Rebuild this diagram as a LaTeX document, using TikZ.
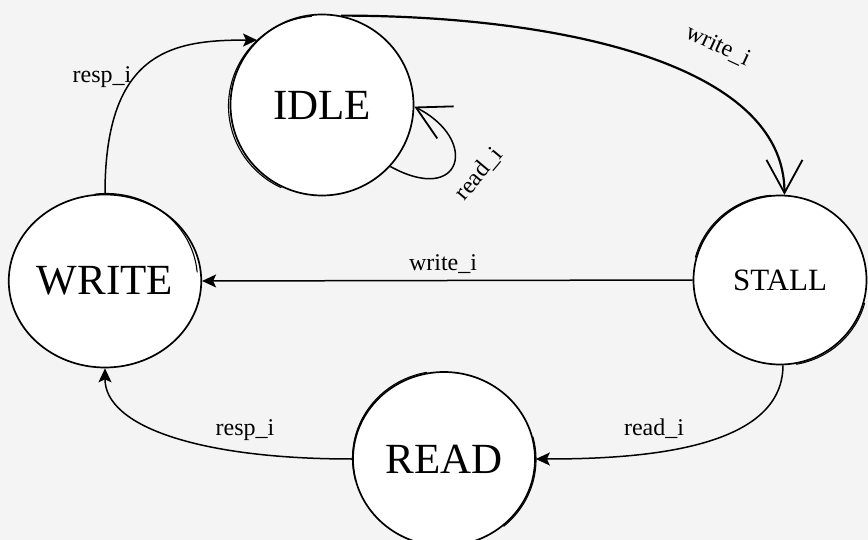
\documentclass[tikz,border=0pt]{standalone}
\usepackage{fontspec}
\setmainfont{Liberation Serif}
\usetikzlibrary{arrows.meta,shapes.geometric}
\definecolor{canvasbg}{RGB}{244,244,244}
\tikzset{
  state/.style={ellipse, draw=black, fill=white, line width=1.7pt, inner sep=0pt},
  statetext/.style={font=\fontsize{43}{43}\selectfont},
  stroke/.style={draw=black, line width=1.1pt, line cap=round},
  edge/.style={draw=black, line width=1.5pt},
  fa/.style={edge, -{Stealth[length=14pt,width=13pt,inset=3pt]}},
  oa/.style={edge, -{Straight Barb[length=33pt,width=36pt,line width=1.8pt]}},
  lbl/.style={font=\fontsize{24}{24}\selectfont, inner sep=0pt},
}
\begin{document}
\begin{tikzpicture}[x=1pt,y=-1pt]
  \useasboundingbox (0,0) rectangle (868,540);
  \fill[canvasbg] (0,0) rectangle (868,540);

  % states
  \node[state, statetext, minimum width=183pt, minimum height=181pt] (IDLE) at (322,105) {IDLE};
  \node[state, statetext, minimum width=184pt, minimum height=173pt] (WRITE) at (105,281) {WRITE};
  \node[state, minimum width=173pt, minimum height=169pt, font=\fontsize{31}{31}\selectfont] (STALL) at (780,280) {STALL};
  \node[state, statetext, minimum width=182pt, minimum height=174pt] (READ) at (444,459) {READ};

  % second pencil strokes along parts of the rings (y axis points down)
  \draw[stroke] ([shift={(-2.5,1)}]IDLE.center) ++(-95:91 and 90) arc[start angle=-95, end angle=-245, x radius=91, y radius=90];
  \draw[stroke] ([shift={(1.5,-1.5)}]WRITE.center) ++(-5:91 and 86) arc[start angle=-5, end angle=-97, x radius=91, y radius=86];
  \draw[stroke] ([shift={(-1.5,-1)}]STALL.center) ++(-95:86 and 84) arc[start angle=-95, end angle=-165, x radius=86, y radius=84];
  \draw[stroke] ([shift={(1.5,1.5)}]STALL.center) ++(15:86 and 84) arc[start angle=15, end angle=80, x radius=86, y radius=84];
  \draw[stroke] ([shift={(-1.5,-1)}]READ.center) ++(-100:90 and 87) arc[start angle=-100, end angle=-195, x radius=90, y radius=87];
  \draw[stroke] ([shift={(2,0.5)}]READ.center) ++(-15:90 and 87) arc[start angle=-15, end angle=50, x radius=90, y radius=87];

  % transitions
  \draw[fa] (WRITE.north) .. controls +(0,-144) and +(-83,0) .. (IDLE.135);
  \draw[oa, line width=2.2pt] (IDLE.78) .. controls +(215,0) and +(0,-132) .. (STALL.87);
  \draw[oa] (IDLE.-42) .. controls (462,206) and (480,140) .. (IDLE.-1);
  \draw[fa] (STALL.west) -- (WRITE.east);
  \draw[fa] (STALL.-88) .. controls +(0,85) and +(103,0) .. (READ.east);
  \draw[fa] (READ.west) .. controls +(-153,0) and +(0,58) .. (WRITE.south);

  % transition labels
  \node[lbl, anchor=base] (lresp1) at (102,83) {resp\_i};
  \node[lbl, rotate=-25] (lwrite1) at (718,46) {write\_i};
  \node[lbl, rotate=50] (lread1) at (479,174) {read\_i};
  \node[lbl, anchor=base] (lwrite2) at (443,271) {write\_i};
  \node[lbl, anchor=base] (lresp2) at (245,435) {resp\_i};
  \node[lbl, anchor=base] (lread2) at (654,435) {read\_i};
\end{tikzpicture}
\end{document}
